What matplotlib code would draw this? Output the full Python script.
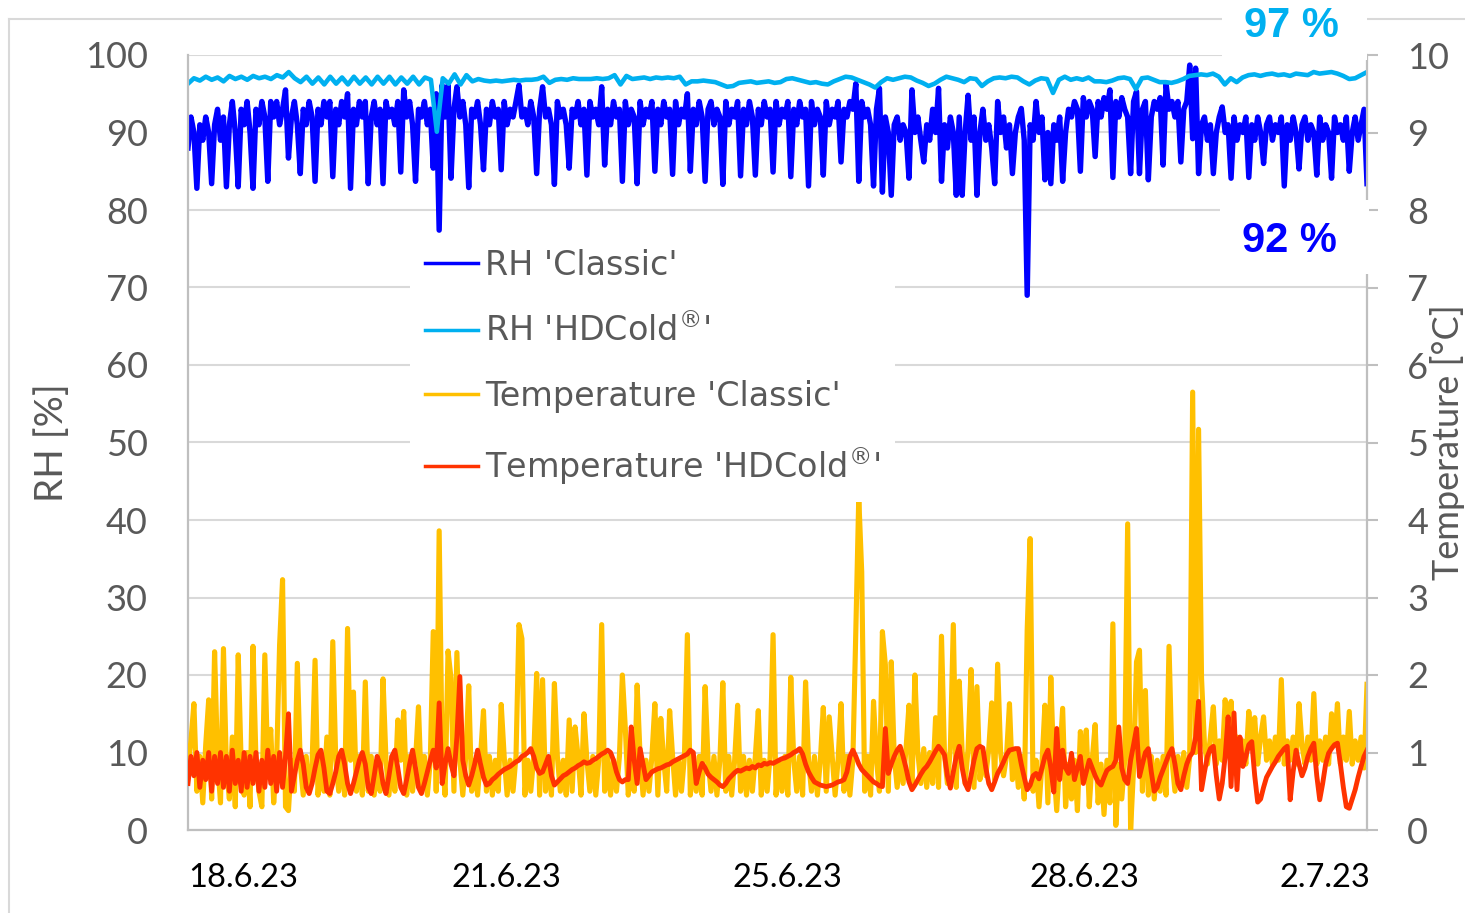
import numpy as np
import matplotlib.pyplot as plt
from matplotlib.patches import Rectangle
from matplotlib.lines import Line2D

plt.rcParams['font.family'] = ['Lato', 'DejaVu Sans']

# logging period shown on the chart, in hours
total_hours = 360
date_labels = ['18.6.23', '21.6.23', '25.6.23', '28.6.23', '2.7.23']
date_ticks = [16.8, 97.1, 182.9, 273.6, 347.2]

rh_ticks = [0, 10, 20, 30, 40, 50, 60, 70, 80, 90, 100]
temp_ticks = [0, 1, 2, 3, 4, 5, 6, 7, 8, 9, 10]

# RH 'Classic' [%], 400 samples
rh_classic = [
    88, 92, 90, 82.8, 91, 89, 92, 90, 83.4, 91,
    93, 89, 92, 83.0, 91, 94, 90, 83.0, 93, 91,
    94, 90, 82.8, 93, 91, 94, 92, 83.7, 94, 92,
    94, 91, 93, 95.5, 86.7, 92, 94, 91, 84.7, 93,
    91, 94, 92, 83.7, 93, 91, 94, 92, 94, 84.3,
    93, 91, 94, 92, 95, 82.8, 93, 91, 94, 92,
    94, 83.4, 92, 94, 91, 93, 83.4, 94, 92, 93,
    91, 94, 84.9, 95.5, 92, 94, 91, 83.7, 93, 92,
    94, 91, 93, 85.4, 95, 77.4, 96.1, 92, 96.1, 84.1,
    93, 95.9, 92, 94, 91, 82.9, 93, 92, 94, 91,
    85.2, 93, 91, 94, 92, 93, 85.2, 94, 91, 93,
    92, 94, 96.1, 92, 93, 91, 94, 92, 84.7, 93,
    95.9, 92, 93, 91, 83.3, 94, 92, 93, 91, 85.4,
    93, 92, 94, 91, 93, 84.5, 94, 92, 93, 91,
    95.9, 85.8, 93, 91, 94, 92, 93, 83.7, 94, 91,
    93, 92, 83.4, 94, 91, 93, 92, 94, 85.0, 93,
    91, 94, 92, 93, 84.6, 94, 91, 93, 92, 95,
    85.0, 93, 91, 94, 92, 83.7, 93, 94, 91, 93,
    92, 83.3, 94, 91, 93, 92, 94, 84.4, 93, 91,
    94, 92, 84.5, 93, 91, 94, 92, 93, 84.9, 94,
    91, 93, 92, 94, 84.3, 93, 91, 94, 92, 93,
    83.1, 94, 91, 93, 92, 84.5, 94, 91, 93, 92,
    94, 86.2, 93, 92, 94, 93, 96.3, 83.7, 94, 92,
    93, 91, 83.1, 93, 95.7, 82.3, 92, 90, 81.9, 91,
    92, 89, 91, 90, 84.1, 95.5, 90, 92, 89, 86.2,
    91, 89, 93, 90, 95.7, 83.7, 91, 88, 92, 90,
    81.9, 92, 81.9, 90, 94.8, 89, 92, 81.9, 90, 93,
    89, 91, 88, 83.4, 94, 90, 92, 88, 91, 84.7,
    90, 92, 93.1, 89, 69.0, 91, 89, 94, 90, 92,
    83.9, 90, 83.4, 91, 89, 92, 83.7, 90, 93, 92,
    94, 93, 85.0, 94.5, 92, 94, 93, 86.9, 94, 92,
    94.5, 93, 95.5, 84.2, 94, 92, 94.5, 93, 92, 84.7,
    94, 95.3, 84.7, 93, 94, 83.9, 92, 94, 93, 94.5,
    85.8, 96.3, 93, 94, 92, 94, 86.2, 93, 94, 98.7,
    89.2, 98.3, 84.7, 91, 92, 89, 91, 84.7, 90, 92,
    93.3, 90, 91, 84.1, 92, 89, 91, 90, 92, 84.2,
    91, 89, 92, 90, 86.0, 91, 92, 89, 91, 90,
    92, 83.1, 91, 89, 92, 90, 85.3, 91, 92, 89,
    91, 90, 84.5, 92, 89, 91, 90, 84.1, 92, 90,
    91, 89, 92, 85.0, 90, 92, 89, 91, 93, 83.4,
]

# RH 'HDCold®' [%], 200 samples
rh_hdcold = [
    96.3, 97.0, 96.7, 97.2, 96.8, 97.1, 96.6, 97.3, 96.9, 97.2,
    96.8, 97.3, 97.0, 97.2, 96.9, 97.4, 97.1, 97.8, 97.0, 96.5,
    97.2, 96.3, 97.1, 96.2, 97.2, 96.3, 97.1, 96.2, 97.2, 96.3,
    97.1, 96.2, 97.2, 96.3, 97.2, 96.2, 97.1, 96.3, 97.2, 96.2,
    97.1, 96.8, 90.1, 97.0, 96.3, 97.5, 96.2, 97.4, 96.6, 96.9,
    96.7, 96.6, 96.7, 96.6, 96.7, 96.8, 96.7, 96.8, 96.8, 96.9,
    97.2, 96.4, 96.8, 96.9, 96.8, 97.0, 96.9, 96.9, 96.9, 97.0,
    96.9, 97.0, 97.4, 96.2, 97.3, 96.9, 97.0, 97.1, 96.9, 97.1,
    97.0, 97.1, 97.0, 97.2, 96.2, 96.6, 96.6, 96.7, 96.6, 96.5,
    96.2, 95.9, 96.0, 96.4, 96.5, 96.6, 96.4, 96.5, 96.6, 96.4,
    96.5, 96.9, 97.0, 96.8, 96.6, 96.4, 96.5, 96.3, 96.2, 96.6,
    96.9, 97.2, 97.1, 96.8, 96.5, 96.2, 95.8, 96.5, 97.0, 96.8,
    97.0, 97.2, 97.1, 96.7, 96.4, 96.0, 96.3, 96.8, 97.2, 97.0,
    96.8, 96.5, 97.0, 96.9, 96.0, 96.6, 97.0, 97.1, 97.0, 97.2,
    97.1, 96.6, 96.2, 96.7, 97.0, 96.9, 95.1, 96.8, 97.2, 96.8,
    97.0, 96.8, 97.1, 96.6, 96.6, 96.5, 96.7, 97.0, 97.1, 96.9,
    95.6, 97.0, 97.1, 96.8, 96.5, 96.5, 96.4, 96.6, 96.9, 97.3,
    97.4, 97.5, 97.4, 97.6, 97.2, 96.2, 97.0, 96.5, 97.1, 97.4,
    97.5, 97.3, 97.5, 97.6, 97.4, 97.5, 97.3, 97.6, 97.5, 97.4,
    97.8, 97.6, 97.7, 97.8, 97.6, 97.3, 96.9, 97.0, 97.4, 97.8,
]

# Temperature 'Classic' [°C], 400 samples
temp_classic = [
    0.8, 1.15, 1.63, 0.5, 0.95, 0.35, 1.1, 1.68, 0.4, 2.30,
    0.9, 0.35, 2.34, 0.8, 0.4, 1.2, 0.3, 2.26, 0.85, 0.45,
    1.0, 0.3, 2.37, 0.9, 0.5, 0.3, 2.26, 0.8, 1.3, 0.35,
    0.9, 2.39, 3.23, 0.3, 0.25, 0.9, 0.5, 2.15, 0.85, 0.45,
    0.95, 0.5, 0.85, 2.19, 0.45, 0.95, 0.5, 1.2, 0.45, 2.43,
    0.9, 0.5, 0.95, 0.45, 2.6, 0.9, 1.78, 0.5, 0.95, 0.45,
    1.91, 0.5, 0.95, 0.45, 0.9, 0.5, 1.95, 0.9, 0.45, 0.95,
    0.5, 1.42, 0.9, 1.53, 0.45, 0.95, 0.5, 0.9, 1.59, 0.5,
    0.95, 0.45, 0.9, 2.56, 0.5, 3.86, 0.95, 0.45, 2.31, 1.96,
    0.5, 2.29, 0.9, 0.45, 0.95, 1.86, 0.5, 0.9, 0.45, 0.95,
    1.54, 0.5, 0.95, 0.45, 0.9, 0.5, 1.62, 0.95, 0.45, 0.9,
    0.5, 0.95, 2.65, 2.47, 0.45, 0.9, 0.5, 0.95, 2.02, 0.45,
    1.94, 0.5, 0.9, 0.45, 1.89, 0.95, 0.5, 0.9, 0.45, 1.42,
    0.5, 1.33, 0.95, 0.45, 1.5, 0.9, 0.5, 0.95, 0.45, 0.9,
    2.65, 0.5, 0.95, 0.45, 0.9, 0.5, 0.95, 2.0, 1.31, 0.45,
    0.9, 0.5, 1.87, 0.95, 0.45, 0.9, 0.5, 0.95, 1.63, 0.45,
    1.44, 0.9, 0.5, 1.54, 0.95, 0.45, 0.9, 0.5, 0.95, 2.52,
    0.45, 0.9, 0.5, 0.95, 0.45, 1.85, 0.9, 0.5, 0.95, 0.45,
    0.9, 1.9, 0.5, 0.95, 0.45, 0.9, 1.61, 0.5, 0.95, 0.45,
    0.9, 0.5, 0.95, 1.54, 0.45, 0.9, 0.5, 0.95, 2.52, 0.45,
    0.9, 0.5, 0.95, 0.45, 1.97, 0.9, 0.5, 0.95, 0.45, 1.91,
    0.9, 0.5, 0.95, 0.45, 0.9, 1.58, 0.5, 1.46, 0.95, 0.45,
    0.9, 1.63, 0.5, 0.95, 0.45, 0.9, 2.56, 4.29, 3.33, 0.5,
    0.95, 0.45, 1.66, 0.9, 0.5, 2.56, 2.13, 0.5, 2.17, 0.95,
    0.55, 1.0, 0.6, 1.05, 1.61, 0.55, 2.0, 1.0, 0.6, 1.05,
    0.55, 1.0, 0.6, 1.45, 0.55, 2.5, 1.0, 0.6, 1.05, 2.65,
    0.55, 1.92, 1.0, 0.6, 1.05, 2.07, 0.55, 1.85, 0.65, 1.0,
    0.7, 1.05, 1.64, 0.65, 2.14, 1.0, 0.7, 0.95, 1.63, 0.65,
    1.0, 0.55, 0.95, 0.4, 2.58, 3.76, 0.5, 0.9, 0.3, 0.85,
    1.61, 0.35, 1.97, 0.8, 0.25, 0.9, 1.57, 0.3, 0.85, 0.4,
    0.9, 0.25, 1.27, 0.8, 1.29, 0.3, 0.9, 1.36, 0.35, 0.85,
    0.2, 0.9, 0.35, 2.66, 0.06, 0.85, 0.4, 0.9, 3.95, 0.0,
    0.8, 2.17, 2.32, 0.5, 1.8, 0.45, 0.95, 0.4, 0.9, 0.5,
    0.95, 0.45, 2.37, 0.9, 0.5, 0.95, 0.6, 1.0, 0.55, 0.95,
    5.65, 1.0, 5.17, 1.96, 1.1, 0.85, 1.2, 1.59, 0.85, 1.15,
    0.9, 1.68, 1.15, 1.66, 0.85, 1.2, 0.9, 1.15, 0.85, 1.53,
    1.1, 1.45, 0.85, 1.2, 1.46, 0.9, 1.15, 0.85, 1.2, 0.9,
    1.94, 0.85, 1.15, 0.9, 1.2, 0.85, 1.63, 1.1, 0.85, 1.2,
    0.9, 1.76, 0.85, 1.15, 0.9, 1.2, 0.85, 1.5, 1.1, 1.63,
    0.85, 1.2, 0.9, 1.53, 0.85, 1.15, 0.9, 1.2, 0.8, 1.88,
]

# Temperature 'HDCold®' [°C], 400 samples
temp_hdcold = [
    0.6, 0.95, 0.7, 1.0, 0.55, 0.9, 0.65, 1.0, 0.5, 0.95,
    0.6, 1.0, 0.55, 0.95, 0.5, 1.03, 0.6, 0.9, 0.5, 1.0,
    0.55, 0.95, 0.6, 1.0, 0.5, 0.9, 0.55, 1.03, 0.6, 0.95,
    0.5, 1.0, 0.55, 0.95, 1.5, 0.5, 0.7, 0.9, 1.03, 0.85,
    0.55, 0.47, 0.6, 0.8, 0.97, 1.03, 0.8, 0.5, 0.47, 0.6,
    0.75, 0.95, 1.03, 0.85, 0.6, 0.47, 0.6, 0.75, 0.9, 1.0,
    0.85, 0.55, 0.47, 0.7, 0.95, 0.85, 0.6, 0.47, 0.7, 0.95,
    1.03, 0.8, 0.55, 0.47, 0.65, 0.85, 1.03, 0.8, 0.55, 0.47,
    0.6, 0.75, 0.9, 1.03, 0.8, 1.64, 0.6, 0.85, 1.05, 0.85,
    0.7, 1.2, 1.98, 0.9, 0.7, 0.58, 0.7, 0.85, 1.03, 0.85,
    0.68, 0.58, 0.6, 0.65, 0.68, 0.72, 0.75, 0.78, 0.8, 0.82,
    0.85, 0.88, 0.9, 0.95, 0.97, 1.0, 1.05, 0.95, 0.8, 0.73,
    0.75, 0.85, 0.95, 0.7, 0.58, 0.62, 0.66, 0.7, 0.72, 0.75,
    0.78, 0.8, 0.83, 0.85, 0.88, 0.86, 0.87, 0.9, 0.92, 0.95,
    0.98, 1.0, 1.03, 1.0, 0.9, 0.75, 0.65, 0.62, 0.65, 0.65,
    1.33, 0.9, 0.6, 1.05, 0.85, 0.65, 0.7, 0.75, 0.77, 0.79,
    0.8, 0.82, 0.84, 0.85, 0.88, 0.9, 0.92, 0.94, 0.96, 0.98,
    1.03, 1.0, 0.6, 0.75, 0.86, 0.8, 0.72, 0.68, 0.65, 0.62,
    0.58, 0.56, 0.6, 0.66, 0.7, 0.74, 0.77, 0.76, 0.78, 0.8,
    0.79, 0.82, 0.8, 0.84, 0.83, 0.86, 0.85, 0.87, 0.86, 0.88,
    0.9, 0.92, 0.93, 0.95, 0.97, 1.0, 1.02, 1.05, 0.98, 0.85,
    0.75, 0.68, 0.62, 0.6, 0.58, 0.57, 0.56, 0.57, 0.58, 0.6,
    0.62, 0.63, 0.65, 0.75, 0.95, 1.03, 0.95, 0.85, 0.78, 0.74,
    0.7, 0.66, 0.62, 0.6, 0.57, 0.56, 1.31, 0.73, 0.85, 0.95,
    1.03, 1.08, 0.95, 0.8, 0.62, 0.52, 0.58, 0.65, 0.72, 0.78,
    0.82, 0.88, 0.95, 1.02, 1.08, 1.03, 0.97, 0.7, 0.54, 0.75,
    0.95, 1.08, 0.8, 0.6, 0.52, 0.7, 0.9, 1.05, 1.08, 1.06,
    0.8, 0.6, 0.52, 0.62, 0.73, 0.8, 0.88, 0.97, 1.03, 1.04,
    1.05, 1.05, 0.85, 0.68, 0.52, 0.58, 0.7, 0.73, 0.66, 0.8,
    0.95, 1.03, 0.8, 0.49, 1.31, 0.65, 1.03, 0.8, 0.73, 0.99,
    0.65, 0.8, 0.95, 0.6, 0.75, 0.9, 0.8, 0.7, 0.62, 0.58,
    0.68, 0.77, 0.8, 0.82, 0.9, 1.33, 0.8, 0.65, 0.6, 0.9,
    1.1, 1.31, 0.69, 0.85, 1.0, 1.05, 0.75, 0.5, 0.55, 0.68,
    0.78, 0.88, 0.98, 1.05, 0.85, 0.6, 0.52, 0.7, 0.85, 0.95,
    1.0, 1.2, 1.66, 0.52, 0.75, 0.95, 1.05, 1.08, 0.7, 0.4,
    0.6, 0.95, 1.46, 0.56, 1.51, 0.52, 1.2, 0.82, 0.95, 1.1,
    1.14, 0.7, 0.36, 0.4, 0.55, 0.68, 0.75, 0.82, 0.88, 0.95,
    1.0, 1.05, 1.08, 0.39, 0.75, 1.03, 0.85, 0.7, 0.8, 0.95,
    1.05, 1.12, 0.7, 0.39, 0.6, 0.85, 0.99, 1.05, 1.1, 1.12,
    0.85, 0.55, 0.3, 0.28, 0.4, 0.52, 0.68, 0.82, 0.95, 1.03,
]

W, H = 1465, 913
GRAY_TXT = '#595959'
GRID = '#D9D9D9'
SPINE = '#BFBFBF'


def hours(series):
    return np.linspace(0, total_hours, len(series))


fig = plt.figure(figsize=(W / 100, H / 100), dpi=100)
ax = fig.add_axes([188 / W, 1 - 830 / H, (1367 - 188) / W, (830 - 55) / H])
ax2 = ax.twinx()

l1, = ax.plot(hours(rh_classic), rh_classic, color='#0000FF', lw=3.9,
              label="RH 'Classic'")
l2, = ax.plot(hours(rh_hdcold), rh_hdcold, color='#00B0F0', lw=3.3,
              label="RH 'HDCold$^{®}$'")
l3, = ax2.plot(hours(temp_classic), temp_classic, color='#FFC000', lw=3.7,
               label="Temperature 'Classic'")
l4, = ax2.plot(hours(temp_hdcold), temp_hdcold, color='#FF3300', lw=3.5,
               label="Temperature 'HDCold$^{®}$'")

ax.set_xlim(0, total_hours)
ax.set_ylim(0, 100)
ax2.set_ylim(0, 10)

ax.set_yticks(rh_ticks)
ax.set_yticklabels([str(t) for t in rh_ticks])
ax2.set_yticks(temp_ticks)
ax2.set_yticklabels([str(t) for t in temp_ticks])
ax.set_xticks(date_ticks)
ax.set_xticklabels(date_labels)

ax.grid(axis='y', color=GRID, lw=1.5)
ax.tick_params(axis='y', length=0, pad=29, labelsize=26, labelcolor=GRAY_TXT)
ax.tick_params(axis='x', length=0, pad=24, labelsize=23.5, labelcolor='black')
ax2.tick_params(axis='y', length=8, width=1.5, color=SPINE, pad=21,
                labelsize=26, labelcolor=GRAY_TXT)

for a in (ax, ax2):
    for s in a.spines.values():
        s.set_visible(False)
ax.spines['left'].set_visible(True)
ax.spines['bottom'].set_visible(True)
ax2.spines['right'].set_visible(True)
for s in (ax.spines['left'], ax.spines['bottom'], ax2.spines['right']):
    s.set_color(SPINE)
    s.set_linewidth(1.6)

leg = ax2.legend(handles=[l1, l2, l3, l4], loc='upper left',
                 bbox_to_anchor=(410 / W, 1 - 234 / H),
                 bbox_transform=fig.transFigure, borderaxespad=0,
                 prop={'family': ['DejaVu Sans'], 'size': 24},
                 frameon=True, fancybox=False,
                 handlelength=1.6, handletextpad=0.2, labelspacing=0.95,
                 borderpad=0.45)
leg.get_frame().set_facecolor('white')
leg.get_frame().set_edgecolor('none')
leg.get_frame().set_alpha(1)
for t in leg.get_texts():
    t.set_color(GRAY_TXT)
for h in leg.get_lines():
    h.set_linewidth(2.5)
leg.set_zorder(10)

fig.text(52 / W, 1 - 443 / H, 'RH [%]', rotation=90, ha='center',
         va='center', fontsize=28, color=GRAY_TXT)
fig.text(1465 / W, 1 - 442 / H, 'Temperature [°C]', rotation=90,
         ha='right', va='center', fontsize=26, color=GRAY_TXT)

# outer chart frame
fig.add_artist(Line2D([9 / W, 1], [1 - 19 / H, 1 - 19 / H],
                      transform=fig.transFigure, color=GRID, lw=1.5))
fig.add_artist(Line2D([9 / W, 9 / W], [0, 1 - 19 / H],
                      transform=fig.transFigure, color=GRID, lw=1.5))

# white boxes behind the two percentage notes
fig.add_artist(Rectangle((1222 / W, 1 - 60 / H), 145 / W, 60 / H,
                         transform=fig.transFigure, fc='white', ec='none',
                         zorder=2))
fig.add_artist(Rectangle((1220 / W, 1 - 274 / H), 149 / W, 74 / H,
                         transform=fig.transFigure, fc='white', ec='none',
                         zorder=2))
fig.text(1291 / W, 1 - 26 / H, '97 %', ha='center', va='center',
         fontsize=30, fontweight='bold', color='#00B0F0',
         family=['Liberation Sans', 'DejaVu Sans'], zorder=3)
fig.text(1289 / W, 1 - 241 / H, '92 %', ha='center', va='center',
         fontsize=30, fontweight='bold', color='#0000FF',
         family=['Liberation Sans', 'DejaVu Sans'], zorder=3)

fig.savefig('out.png', dpi=100)
